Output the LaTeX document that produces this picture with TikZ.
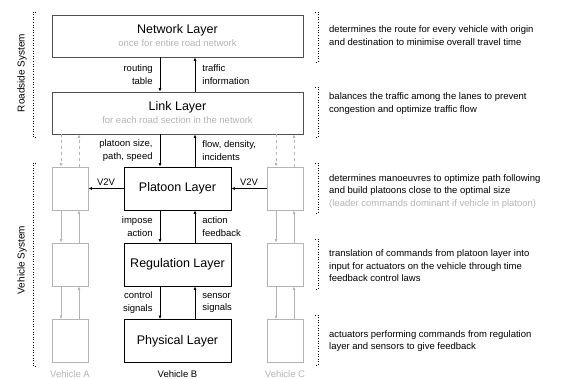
\documentclass[tikz,border=0pt]{standalone}
\usepackage{fontspec}
\setmainfont{Liberation Sans}
\usetikzlibrary{arrows.meta}

\definecolor{softgray}{HTML}{B4B4B4}
\definecolor{framegray}{HTML}{505050}

\begin{document}
\begin{tikzpicture}[x=1pt,y=-1pt,
    every node/.style={inner sep=0pt,font=\fontsize{9.5}{12.5}\selectfont},
    layer/.style={draw,line width=0.8pt,minimum width=107pt,minimum height=43pt,
      align=center,font=\fontsize{12.5}{14}\selectfont},
    roadlayer/.style={layer,draw=framegray,minimum width=251pt,minimum height=42pt},
    ghost/.style={draw=softgray,line width=0.8pt,minimum width=36pt,minimum height=43pt},
    arr/.style={line width=0.8pt,-{Latex[length=3.5pt,width=3pt]}},
    garr/.style={arr,draw=softgray},
    bracket/.style={dotted,line width=0.6pt}]
    \useasboundingbox (0,0) rectangle (562,379);

    % Roadside layers
    \node[roadlayer] (net) at (177.5,36)
      {Network Layer\\[-1pt]{\fontsize{9.5}{11}\selectfont\color{softgray}once for entire road network}};
    \node[roadlayer] (link) at (177.5,113)
      {Link Layer\\[-1pt]{\fontsize{9.5}{11}\selectfont\color{softgray}for each road section in the network}};

    % Vehicle B layers
    \node[layer] (plat) at (177.5,188.5) {Platoon Layer};
    \node[layer] (reg) at (177.5,264.5) {Regulation Layer};
    \node[layer] (phys) at (177.5,341) {Physical Layer};

    % Vehicles A and C
    \foreach \v/\x in {A/70,C/285} {
      \foreach \j/\y in {1/188.5,2/264.5,3/341} {
        \node[ghost] (v\v\j) at (\x,\y) {};
      }
      \draw[garr] ([xshift=-9pt]v\v1.south) -- ([xshift=-9pt]v\v2.north);
      \draw[garr] ([xshift=9pt]v\v2.north) -- ([xshift=9pt]v\v1.south);
      \draw[garr] ([xshift=-9pt]v\v2.south) -- ([xshift=-9pt]v\v3.north);
      \draw[garr] ([xshift=9pt]v\v3.north) -- ([xshift=9pt]v\v2.south);
      \draw[garr,dashed] ([xshift=-9pt]v\v1.north |- link.south) -- ([xshift=-9pt]v\v1.north);
      \draw[garr,dashed] ([xshift=9pt]v\v1.north) -- ([xshift=9pt]v\v1.north |- link.south);
    }

    % Vertical exchange in the middle
    \draw[arr] ([xshift=-17.5pt]net.south -| plat.north) -- ([xshift=-17.5pt]link.north -| plat.north)
      node[midway,left=7pt,align=right] {routing\\table};
    \draw[arr] ([xshift=17.5pt]link.north -| plat.north) -- ([xshift=17.5pt]net.south -| plat.north)
      node[midway,right=7pt,align=left] {traffic\\information};
    \draw[arr] ([xshift=-17.5pt]link.south -| plat.north) -- ([xshift=-17.5pt]plat.north)
      node[midway,left=7pt,align=right] {platoon size,\\path, speed};
    \draw[arr] ([xshift=17.5pt]plat.north) -- ([xshift=17.5pt]link.south -| plat.north)
      node[midway,right=7pt,align=left] {flow, density,\\incidents};
    \draw[arr] ([xshift=-17.5pt]plat.south) -- ([xshift=-17.5pt]reg.north)
      node[midway,left=7pt,align=right] {impose\\action};
    \draw[arr] ([xshift=17.5pt]reg.north) -- ([xshift=17.5pt]plat.south)
      node[midway,right=7pt,align=left] {action\\feedback};
    \draw[arr] ([xshift=-17.5pt]reg.south) -- ([xshift=-17.5pt]phys.north)
      node[midway,left=7pt,align=right] {control\\signals};
    \draw[arr] ([xshift=17.5pt]phys.north) -- ([xshift=17.5pt]reg.south)
      node[midway,right=7pt,align=left] {sensor\\signals};

    % V2V links
    \draw[arr,{Latex[length=3.5pt,width=3pt]}-] (vA1.east) -- (plat.west)
      node[midway,above=3pt] {V2V};
    \draw[arr,{Latex[length=3.5pt,width=3pt]}-] (plat.east) -- (vC1.west)
      node[midway,above=3pt] {V2V};

    % Vehicle names
    \node[text=softgray] (nameA) at (70,374) {Vehicle A};
    \node (nameB) at (177.5,374) {Vehicle B};
    \node[text=softgray] (nameC) at (285,374) {Vehicle C};

    % System brackets on the left
    \draw[bracket] (36,12) -- (33,12) -- (33,137) -- (36,137);
    \draw[bracket] (36,163) -- (33,163) -- (33,366) -- (36,366);
    \node[rotate=90,font=\fontsize{10}{12}\selectfont] (road) at (22,73) {Roadside System};
    \node[rotate=90,font=\fontsize{10}{12}\selectfont] (veh) at (22,260) {Vehicle System};

    % Descriptions on the right
    \foreach \t/\b in {12/62,87/137,163/213,239/289,315/365} {
      \draw[bracket] (315,\t) -- (318,\t) -- (318,\b) -- (315,\b);
    }
    \node[anchor=west,align=left] (dnet) at (329,35.5)
      {determines the route for every vehicle with origin\\and destination to minimise overall travel time};
    \node[anchor=west,align=left] (dlink) at (329,103.5)
      {balances the traffic among the lanes to prevent\\congestion and optimize traffic flow};
    \node[anchor=west,align=left] (dplat) at (329,191.5)
      {determines manoeuvres to optimize path following\\and build platoons close to the optimal size\\
       {\color{softgray}(leader commands dominant if vehicle in platoon)}};
    \node[anchor=west,align=left] (dreg) at (329,266)
      {translation of commands from platoon layer into\\input for actuators on the vehicle through time\\feedback control laws};
    \node[anchor=west,align=left] (dphys) at (329,341)
      {actuators performing commands from regulation\\layer and sensors to give feedback};
  \end{tikzpicture}
\end{document}
